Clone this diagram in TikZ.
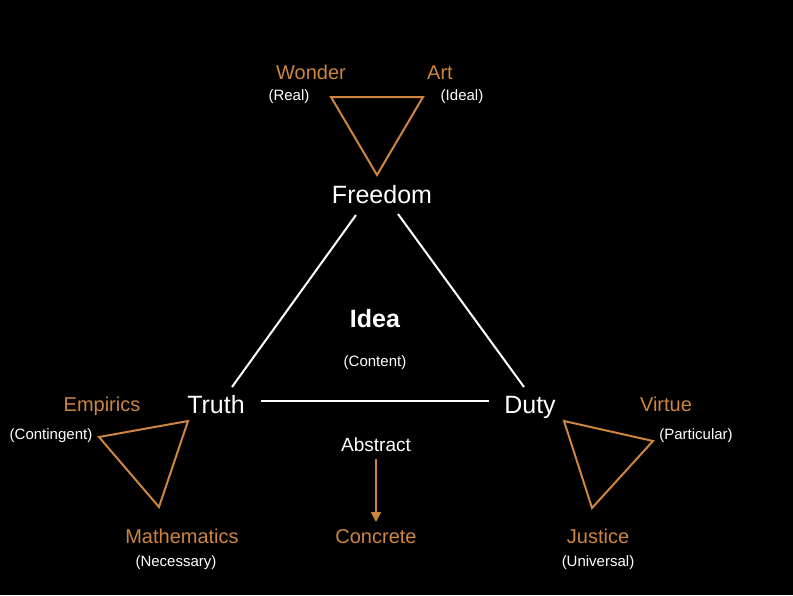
\documentclass[tikz,border=0pt]{standalone}
\usepackage{fontspec}
\setmainfont{Liberation Sans}
\usetikzlibrary{arrows.meta,calc}
\definecolor{ochre}{RGB}{205,133,63}
\tikzset{
  mainlbl/.style={text=white,anchor=base,inner sep=0pt,font=\fontsize{25}{28}\selectfont},
  termlbl/.style={text=ochre,anchor=base,inner sep=0pt,font=\fontsize{20}{24}\selectfont},
  notelbl/.style={text=white,anchor=base,inner sep=0pt,font=\fontsize{15}{18}\selectfont},
  whiteline/.style={draw=white,line width=2pt},
  triline/.style={draw=ochre,line width=2pt,line join=miter},
  arrowline/.style={draw=ochre,line width=1.6pt,-{Triangle[length=10pt,width=10pt]}}
}
\begin{document}
\begin{tikzpicture}[x=1pt,y=-1pt]
\fill[black] (0,0) rectangle (793,595);
\useasboundingbox (0,0) rectangle (793,595);
% main nodes
\node[mainlbl] (freedom) at (382,203) {Freedom};
\node[mainlbl] (truth) at (216,413) {Truth};
\node[mainlbl] (duty) at (530,413) {Duty};
\node[text=white,anchor=base,inner sep=0pt,font=\fontsize{25}{28}\selectfont\bfseries] (idea) at (375,327) {Idea};
\node[notelbl] (content) at (375,366) {(Content)};
% big triangle
\draw[whiteline] ($(freedom.base)+(-26,12)$) -- ($(truth.base)+(16,-26)$);
\draw[whiteline] ($(freedom.base)+(16,11)$) -- ($(duty.base)+(-6,-26)$);
\draw[whiteline] ($(truth.base)+(45,-12)$) -- ($(duty.base)+(-41,-12)$);
% top
\node[termlbl] (wonder) at (311,79) {Wonder};
\node[termlbl] (art) at (440,79) {Art};
\node[notelbl] (real) at (289,100) {(Real)};
\node[notelbl] (ideal) at (462,100) {(Ideal)};
\draw[triline] (331,97) -- (423,97) -- (377,175) -- cycle;
% left
\node[termlbl] (empirics) at (102,411) {Empirics};
\node[notelbl] (contingent) at (51,439) {(Contingent)};
\node[termlbl] (mathematics) at (182,543) {Mathematics};
\node[notelbl] (necessary) at (176,566) {(Necessary)};
\draw[triline] (99,437) -- (188,421) -- (159,507) -- cycle;
% right
\node[termlbl] (virtue) at (666,411) {Virtue};
\node[notelbl] (particular) at (696,439) {(Particular)};
\node[termlbl] (justice) at (598,543) {Justice};
\node[notelbl] (universal) at (598,566) {(Universal)};
\draw[triline] (564,421) -- (653,441) -- (592,508) -- cycle;
% abstract to concrete
\node[text=white,anchor=base,inner sep=0pt,font=\fontsize{19}{22}\selectfont] (abstract) at (376,451) {Abstract};
\node[termlbl] (concrete) at (376,543) {Concrete};
\draw[arrowline] ($(abstract.base)+(0,8)$) -- ($(concrete.base)+(0,-21)$);
\end{tikzpicture}
\end{document}
